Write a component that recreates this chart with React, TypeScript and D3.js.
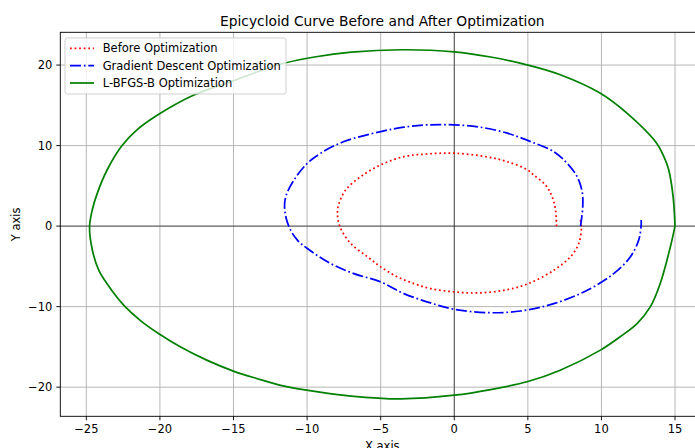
import React from "react";
import * as d3 from "d3";

const beforeX = [6.95, 6.88, 6.65, 6.2, 5.4, 4.96, 3.6, 2.24, 0, -1.83, -3.42, -5.0, -6.36, -7.38, -7.83, -7.94, -7.77, -7.04, -5.9, -5.0, -3.87, -2.74, -1.6, 0, 1.56, 3.37, 4.96, 6.76, 7.9, 8.46, 8.64, 8.55];
const beforeY = [0.0, 2.0, 3.65, 5.1, 6.35, 7.0, 8.0, 8.6, 9.05, 8.96, 8.63, 7.6, 6.14, 4.48, 2.82, 1.58, -0.08, -2.15, -3.8, -5.06, -6.3, -7.14, -7.76, -8.17, -8.3, -7.97, -7.2, -5.48, -3.8, -2.15, -0.08, 0.9];

const gdX = [8.58, 8.73, 8.69, 8.35, 7.67, 6.76, 5.18, 3.6, 1.79, 0, -1.83, -3.42, -5.0, -7.5, -9.08, -9.98, -10.89, -11.45, -11.52, -11.23, -10.66, -9.98, -8.4, -6.82, -5.0, -3.42, -1.61, 0, 2.24, 4.5, 6.76, 9.03, 10.83, 11.97, 12.53, 12.7, 12.7];
const gdY = [0.0, 2.4, 4.27, 6.14, 7.8, 9.25, 10.5, 11.54, 12.28, 12.57, 12.57, 12.28, 11.74, 10.5, 9.05, 7.8, 5.72, 3.65, 2.0, -0.08, -1.74, -2.78, -4.65, -5.9, -6.93, -8.38, -9.54, -10.33, -10.75, -10.54, -9.63, -7.97, -5.9, -3.8, -1.74, 0.12, 0.75];

const lbX = [15.0, 14.87, 14.57, 14.25, 13.75, 11.75, 9.93, 7.2, 5.0, 2.47, 0, -3.6, -7.0, -9.5, -11.58, -12.7, -14.97, -17.69, -20.16, -21.58, -22.6, -23.59, -24.26, -24.6, -24.78, -24.61, -24.15, -23.19, -22.45, -21.28, -20.07, -18.59, -16.78, -15.01, -13.38, -11.8, -10.03, -7.0, -3.6, 0, 2.47, 5.0, 7.2, 9.93, 11.3, 12.42, 13.33, 14.0, 14.68, 15.0];
const lbY = [0, 3.65, 7.0, 8.6, 10.3, 14.0, 16.5, 18.8, 20.0, 21.0, 21.65, 21.9, 21.6, 21.0, 20.22, 19.6, 18.08, 16.28, 13.8, 11.93, 9.95, 6.97, 4.07, 2.0, -0.07, -2.81, -5.5, -8.18, -9.84, -11.79, -13.36, -15.01, -16.67, -18.0, -18.95, -19.77, -20.36, -21.1, -21.45, -21.0, -20.3, -19.3, -17.9, -15.4, -13.7, -12.1, -10.0, -7.1, -2.6, 0];

const xTicks = [-25, -20, -15, -10, -5, 0, 5, 10, 15];
const yTicks = [-20, -10, 0, 10, 20];

const seriesNames = ["Before Optimization", "Gradient Descent Optimization", "L-BFGS-B Optimization"];
const seriesColors = ["#ff0000", "#0000ff", "#008000"];
const seriesDash = ["1.73 2.85", "11.07 2.77 1.73 2.77", ""];

const W = 695;
const H = 448;
const AX = { left: 60.3, right: 704.3, top: 32.3, bottom: 416.3 };
const FONT = "'DejaVu Sans', sans-serif";

export default function App() {
  const series = [
    beforeX.map((x, i) => [x, beforeY[i]] as [number, number]),
    gdX.map((x, i) => [x, gdY[i]] as [number, number]),
    lbX.map((x, i) => [x, lbY[i]] as [number, number]),
  ];
  const allX = [...beforeX, ...gdX, ...lbX];
  const allY = [...beforeY, ...gdY, ...lbY];
  const [x0, x1] = d3.extent(allX) as [number, number];
  const [y0, y1] = d3.extent(allY) as [number, number];
  const mx = (x1 - x0) * 0.05;
  const my = (y1 - y0) * 0.05;
  const xs = d3.scaleLinear().domain([x0 - mx, x1 + mx]).range([AX.left, AX.right]);
  const ys = d3.scaleLinear().domain([y0 - my, y1 + my]).range([AX.bottom, AX.top]);
  const line = d3
    .line<[number, number]>()
    .x((d) => xs(d[0]))
    .y((d) => ys(d[1]))
    .curve(d3.curveCatmullRom.alpha(0.5));

  const legendYs = [48.3, 65.7, 83];

  return (
    <svg width={W} height={H} style={{ position: "absolute", left: 0, top: 0, background: "#fff" }} fontFamily={FONT}>
      <rect x={0} y={0} width={W} height={H} fill="#fff" />
      <defs>
        <clipPath id="axclip">
          <rect x={AX.left} y={AX.top} width={AX.right - AX.left} height={AX.bottom - AX.top} />
        </clipPath>
      </defs>
      {/* grid */}
      <g stroke="#b0b0b0" strokeWidth={0.92}>
        {xTicks.map((t) => (
          <line key={"gx" + t} x1={xs(t)} x2={xs(t)} y1={AX.top} y2={AX.bottom} />
        ))}
        {yTicks.map((t) => (
          <line key={"gy" + t} x1={AX.left} x2={AX.right} y1={ys(t)} y2={ys(t)} />
        ))}
      </g>
      {/* zero lines */}
      <g stroke="#000" strokeWidth={0.6}>
        <line x1={AX.left} x2={AX.right} y1={ys(0)} y2={ys(0)} />
        <line x1={xs(0)} x2={xs(0)} y1={AX.top} y2={AX.bottom} />
      </g>
      {/* curves */}
      <g clipPath="url(#axclip)" fill="none">
        {series.map((s, i) => (
          <path
            key={"s" + i}
            d={line(s) || ""}
            stroke={seriesColors[i]}
            strokeWidth={1.73}
            strokeDasharray={seriesDash[i] || undefined}
          />
        ))}
      </g>
      {/* spines */}
      <rect x={AX.left} y={AX.top} width={AX.right - AX.left} height={AX.bottom - AX.top} fill="none" stroke="#000" strokeWidth={0.92} />
      {/* x ticks */}
      {xTicks.map((t) => (
        <g key={"xt" + t}>
          <line x1={xs(t)} x2={xs(t)} y1={AX.bottom} y2={AX.bottom + 4} stroke="#000" strokeWidth={0.92} />
          <text x={xs(t)} y={AX.bottom + 8} dy="0.76em" textAnchor="middle" fontSize={11.5} fill="#000">
            {t < 0 ? "\u2212" + Math.abs(t) : String(t)}
          </text>
        </g>
      ))}
      {/* y ticks */}
      {yTicks.map((t) => (
        <g key={"yt" + t}>
          <line x1={AX.left - 4} x2={AX.left} y1={ys(t)} y2={ys(t)} stroke="#000" strokeWidth={0.92} />
          <text x={AX.left - 8} y={ys(t)} dy="0.36em" textAnchor="end" fontSize={11.5} fill="#000">
            {t < 0 ? "\u2212" + Math.abs(t) : String(t)}
          </text>
        </g>
      ))}
      {/* labels */}
      <text x={(AX.left + AX.right) / 2} y={25.5} textAnchor="middle" fontSize={13.8} fill="#000">
        Epicycloid Curve Before and After Optimization
      </text>
      <text x={(AX.left + AX.right) / 2} y={441.5} dy="0.76em" textAnchor="middle" fontSize={11.5} fill="#000">
        X axis
      </text>
      <text transform={`translate(${19.5},${(AX.top + AX.bottom) / 2}) rotate(-90)`} textAnchor="middle" fontSize={11.5} fill="#000">
        Y axis
      </text>
      {/* legend */}
      <rect x={65} y={38} width={221} height={56} rx={2.5} fill="#fff" fillOpacity={0.8} stroke="#cccccc" strokeWidth={0.92} />
      {seriesNames.map((n, i) => (
        <g key={"lg" + i}>
          <line
            x1={70}
            x2={94}
            y1={legendYs[i]}
            y2={legendYs[i]}
            stroke={seriesColors[i]}
            strokeWidth={1.73}
            strokeDasharray={seriesDash[i] || undefined}
          />
          <text x={102.7} y={legendYs[i]} dy="0.36em" fontSize={11.5} fill="#000">
            {n}
          </text>
        </g>
      ))}
    </svg>
  );
}
